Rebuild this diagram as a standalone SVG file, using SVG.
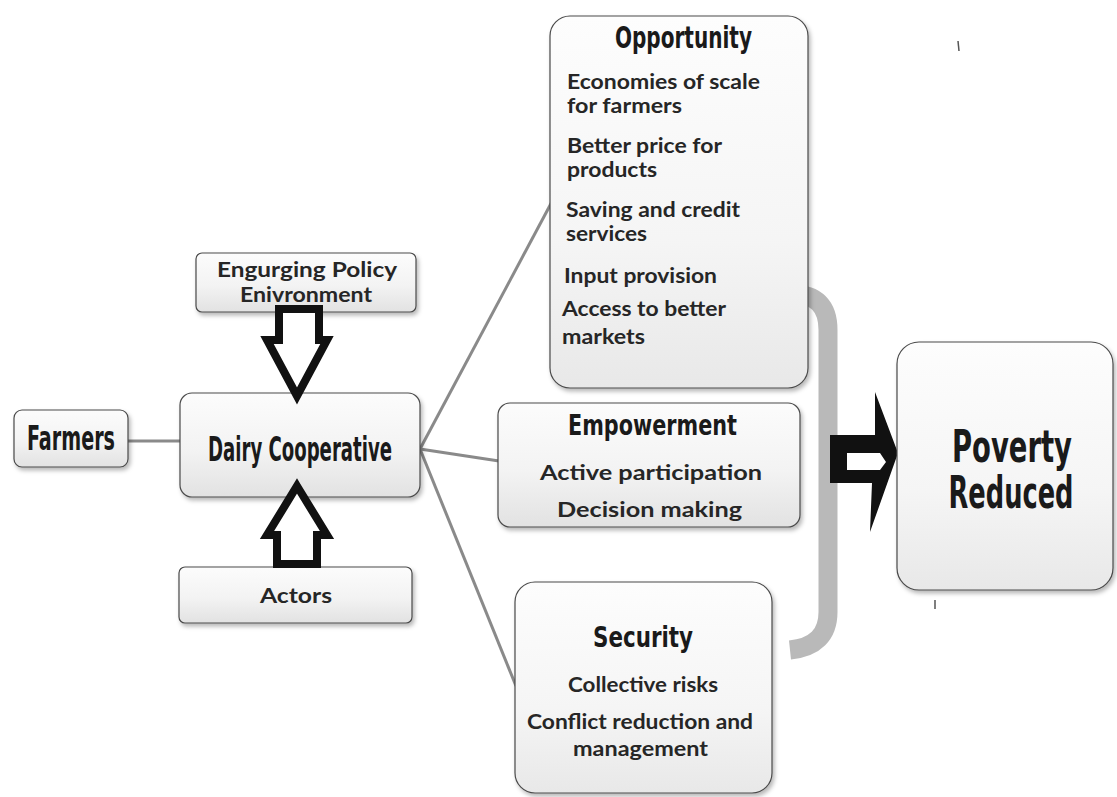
<svg xmlns="http://www.w3.org/2000/svg" width="1117" height="797" viewBox="0 0 1117 797">
  <defs>
    <linearGradient id="boxFill" x1="0" y1="0" x2="0" y2="1">
      <stop offset="0" stop-color="#fcfcfc"/>
      <stop offset="0.55" stop-color="#f3f3f3"/>
      <stop offset="1" stop-color="#e2e2e2"/>
    </linearGradient>
    <linearGradient id="bigFill" x1="0" y1="0" x2="0" y2="1">
      <stop offset="0" stop-color="#fdfdfd"/>
      <stop offset="0.6" stop-color="#f5f5f5"/>
      <stop offset="1" stop-color="#e8e8e8"/>
    </linearGradient>
    <filter id="shadow" x="-10%" y="-10%" width="125%" height="130%">
      <feDropShadow dx="2" dy="3" stdDeviation="2" flood-color="#000" flood-opacity="0.28"/>
    </filter>
    <style>
      .box { fill: url(#boxFill); stroke: #4a4a4a; stroke-width: 1.2; filter: url(#shadow); }
      .big { fill: url(#bigFill); stroke: #4a4a4a; stroke-width: 1.2; filter: url(#shadow); }
      .head { font-family: "DejaVu Sans Condensed", "DejaVu Sans", sans-serif; font-weight: bold; fill: #1a1a1a; }
      .body { font-family: Lato, "Open Sans", "Liberation Sans", sans-serif; font-weight: bold; fill: #262626; font-size: 21px; }
      .link { stroke: #8a8a8a; stroke-width: 3; fill: none; }
      .hollow { fill: #ffffff; stroke: #111; stroke-width: 8; stroke-linejoin: miter; }
    </style>
  </defs>

  <rect width="1117" height="797" fill="#ffffff"/>

  <!-- connectors -->
  <g id="connectors">
    <line class="link" x1="128" y1="441" x2="180" y2="441"/>
    <line class="link" x1="420" y1="449" x2="555" y2="196"/>
    <line class="link" x1="420" y1="449" x2="499" y2="461"/>
    <line class="link" x1="420" y1="449" x2="516" y2="686"/>
    <!-- grey bracket gathering the three outcomes -->
    <path d="M 792 294 Q 828 294 828 330 L 828 612 Q 828 646 790 650" fill="none" stroke="#b9b9b9" stroke-width="19"/>
  </g>

  <!-- nodes -->
  <g id="node-policy">
    <rect class="box" x="196" y="253" width="220" height="59" rx="6"/>
    <text class="body" x="217" y="277" font-size="22" textLength="180" lengthAdjust="spacingAndGlyphs">Engurging Policy</text>
    <text class="body" x="240" y="302" font-size="22" textLength="132" lengthAdjust="spacingAndGlyphs">Enivronment</text>
  </g>

  <g id="node-farmers">
    <rect class="box" x="14" y="410" width="114" height="57" rx="8"/>
    <text class="head" x="27" y="450" font-size="33" textLength="88" lengthAdjust="spacingAndGlyphs">Farmers</text>
  </g>

  <g id="node-dairy">
    <rect class="box" x="180" y="393" width="240" height="104" rx="12"/>
    <text class="head" x="208" y="461" font-size="33" textLength="184" lengthAdjust="spacingAndGlyphs">Dairy Cooperative</text>
  </g>

  <g id="node-actors">
    <rect class="box" x="179" y="567" width="233" height="56" rx="6"/>
    <text class="body" x="260" y="603" font-size="24" textLength="72" lengthAdjust="spacingAndGlyphs">Actors</text>
  </g>

  <!-- hollow block arrows into the cooperative -->
  <g id="arrow-policy">
    <polygon class="hollow" points="279,309 319,309 319,340 327,340 297,396 267,340 279,340"/>
  </g>
  <g id="arrow-actors">
    <polygon class="hollow" points="297,486 327,535 317,535 317,564 277,564 277,535 267,535"/>
  </g>

  <g id="node-opportunity">
    <rect class="big" x="550" y="16" width="258" height="372" rx="20"/>
    <text class="head" x="615" y="48" font-size="31" textLength="137" lengthAdjust="spacingAndGlyphs">Opportunity</text>
    <text class="body" x="567" y="89" textLength="193" lengthAdjust="spacingAndGlyphs">Economies of scale</text>
    <text class="body" x="567" y="113" textLength="115" lengthAdjust="spacingAndGlyphs">for farmers</text>
    <text class="body" x="567" y="153" textLength="155" lengthAdjust="spacingAndGlyphs">Better price for</text>
    <text class="body" x="567" y="177" textLength="90" lengthAdjust="spacingAndGlyphs">products</text>
    <text class="body" x="566" y="217" textLength="174" lengthAdjust="spacingAndGlyphs">Saving and credit</text>
    <text class="body" x="566" y="241" textLength="81" lengthAdjust="spacingAndGlyphs">services</text>
    <text class="body" x="564" y="283" textLength="153" lengthAdjust="spacingAndGlyphs">Input provision</text>
    <text class="body" x="562" y="316" textLength="164" lengthAdjust="spacingAndGlyphs">Access to better</text>
    <text class="body" x="562" y="344" textLength="83" lengthAdjust="spacingAndGlyphs">markets</text>
  </g>

  <g id="node-empowerment">
    <rect class="box" x="498" y="403" width="302" height="124" rx="12"/>
    <text class="head" x="568" y="435" font-size="28" textLength="169" lengthAdjust="spacingAndGlyphs">Empowerment</text>
    <text class="body" x="540" y="480" font-size="23" textLength="222" lengthAdjust="spacingAndGlyphs">Active participation</text>
    <text class="body" x="557" y="517" font-size="23" textLength="185" lengthAdjust="spacingAndGlyphs">Decision making</text>
  </g>

  <g id="node-security">
    <rect class="big" x="515" y="582" width="257" height="211" rx="20"/>
    <text class="head" x="593" y="647" font-size="28" textLength="100" lengthAdjust="spacingAndGlyphs">Security</text>
    <text class="body" x="568" y="692" textLength="150" lengthAdjust="spacingAndGlyphs">Collective risks</text>
    <text class="body" x="527" y="729" textLength="226" lengthAdjust="spacingAndGlyphs">Conflict reduction and</text>
    <text class="body" x="573" y="756" textLength="135" lengthAdjust="spacingAndGlyphs">management</text>
  </g>

  <!-- solid block arrow towards the outcome -->
  <g id="arrow-outcome">
    <path fill="#111" fill-rule="evenodd" d="M 830 435 L 875 435 L 875 392 L 898 453 L 870 532 L 872 483 L 830 483 Z M 847 453 L 880 453 L 886 462 L 880 470 L 847 470 Z"/>
  </g>

  <g id="node-poverty">
    <rect class="big" x="897" y="342" width="216" height="248" rx="22"/>
    <text class="head" x="1012" y="462" font-size="44" text-anchor="middle" textLength="120" lengthAdjust="spacingAndGlyphs">Poverty</text>
    <text class="head" x="1011" y="508" font-size="44" text-anchor="middle" textLength="125" lengthAdjust="spacingAndGlyphs">Reduced</text>
  </g>

  <!-- small stray ticks -->
  <line x1="958" y1="41" x2="959" y2="51" stroke="#555" stroke-width="1.5"/>
  <line x1="935" y1="600" x2="935" y2="609" stroke="#555" stroke-width="1.5"/>
</svg>
